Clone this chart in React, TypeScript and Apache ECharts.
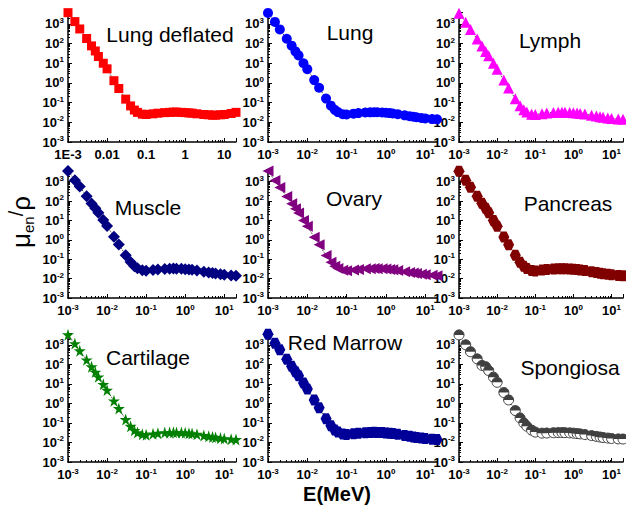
import React, { useEffect, useRef } from 'react';
import * as echarts from 'echarts';

// Photon energies (MeV)
const energies = [0.001, 0.0015, 0.002, 0.003, 0.004, 0.005, 0.006, 0.008, 0.01, 0.015, 0.02, 0.03, 0.04, 0.05, 0.06, 0.08, 0.1, 0.15, 0.2, 0.3, 0.4, 0.5, 0.6, 0.8, 1, 1.25, 1.5, 2, 3, 4, 5, 6, 8, 10, 15, 20];

// mu_en / rho values per tissue (cm^2/g)
const lungDeflated = [3700, 1300, 550, 180, 76, 42, 22, 10, 5.2, 1.3, 0.52, 0.15, 0.068, 0.042, 0.032, 0.026, 0.025, 0.027, 0.029, 0.031, 0.032, 0.033, 0.033, 0.032, 0.031, 0.030, 0.029, 0.027, 0.025, 0.024, 0.023, 0.023, 0.024, 0.025, 0.028, 0.032];
const lung = [3600, 1250, 520, 175, 78, 40, 25, 10, 5.0, 1.4, 0.57, 0.16, 0.07, 0.043, 0.033, 0.026, 0.025, 0.0275, 0.0295, 0.0315, 0.0322, 0.0325, 0.0323, 0.0316, 0.0306, 0.0293, 0.0281, 0.026, 0.0227, 0.0206, 0.0191, 0.018, 0.0166, 0.0157, 0.0146, 0.0141];
const lymph = [3500, 1200, 520, 170, 75, 40, 24, 10, 5.0, 1.4, 0.56, 0.155, 0.07, 0.043, 0.033, 0.026, 0.025, 0.0276, 0.0297, 0.0318, 0.0326, 0.0329, 0.0327, 0.0319, 0.0309, 0.0296, 0.0284, 0.0262, 0.0228, 0.0207, 0.0192, 0.0181, 0.0167, 0.0158, 0.0147, 0.0142];
const muscle = [3600, 1200, 560, 175, 75, 42, 25, 10.5, 5.2, 1.45, 0.58, 0.16, 0.072, 0.044, 0.034, 0.027, 0.0255, 0.0276, 0.0297, 0.0317, 0.0325, 0.0328, 0.0326, 0.0318, 0.0308, 0.0295, 0.0283, 0.0261, 0.0228, 0.0207, 0.0192, 0.0181, 0.0166, 0.0157, 0.0146, 0.0141];
const ovary = [3500, 1150, 500, 170, 72, 40, 24, 9.8, 5.0, 1.35, 0.56, 0.155, 0.07, 0.043, 0.033, 0.027, 0.0255, 0.0277, 0.0298, 0.0318, 0.0326, 0.0329, 0.0327, 0.0319, 0.0309, 0.0296, 0.0284, 0.0262, 0.0228, 0.0207, 0.0192, 0.0181, 0.0167, 0.0158, 0.0147, 0.0142];
const pancreas = [3400, 1200, 520, 175, 76, 42, 25, 10, 5.0, 1.4, 0.56, 0.16, 0.07, 0.043, 0.033, 0.026, 0.025, 0.0275, 0.0296, 0.0316, 0.0324, 0.0327, 0.0325, 0.0317, 0.0307, 0.0294, 0.0282, 0.026, 0.0227, 0.0206, 0.0191, 0.018, 0.0166, 0.0157, 0.0146, 0.0141];
const cartilage = [3300, 1150, 500, 170, 75, 40, 23, 9.5, 4.8, 1.35, 0.55, 0.15, 0.068, 0.042, 0.032, 0.026, 0.025, 0.0277, 0.0298, 0.0319, 0.0327, 0.033, 0.0328, 0.032, 0.031, 0.0297, 0.0285, 0.0263, 0.0229, 0.0208, 0.0193, 0.0182, 0.0168, 0.0159, 0.0148, 0.0143];
const redMarrow = [3500, 1200, 550, 180, 80, 42, 26, 11, 5.5, 1.5, 0.6, 0.165, 0.072, 0.044, 0.034, 0.027, 0.0255, 0.0277, 0.0298, 0.0318, 0.0326, 0.0329, 0.0327, 0.0319, 0.0309, 0.0296, 0.0284, 0.0262, 0.0228, 0.0207, 0.0192, 0.0181, 0.0167, 0.0158, 0.0147, 0.0142];
const spongiosa = [3200, 1000, 440, 190, 88, 75, 48, 22, 12, 3.6, 1.5, 0.43, 0.18, 0.1, 0.068, 0.043, 0.034, 0.03, 0.0305, 0.0315, 0.032, 0.032, 0.0318, 0.031, 0.030, 0.0285, 0.0275, 0.0255, 0.0225, 0.0205, 0.019, 0.018, 0.0168, 0.016, 0.0152, 0.015];

const tissueNames = ['Lung deflated', 'Lung', 'Lymph', 'Muscle', 'Ovary', 'Pancreas', 'Cartilage', 'Red Marrow', 'Spongiosa'];
const tissueValues = [lungDeflated, lung, lymph, muscle, ovary, pancreas, cartilage, redMarrow, spongiosa];

// Tick labels of the first panel's energy axis
const firstPanelXLabels = ['1E-3', '0.01', '0.1', '1', '10'];
const xTitle = 'E(MeV)';

// ---- styles / layout (not data) ----
const FONT = '"Liberation Sans", Arial, Helvetica, sans-serif';
const HEX = 'path://M5,0 L15,0 L20,8.66 L15,17.32 L5,17.32 L0,8.66 Z';
const STAR = 'path://M50,0 L61,35 L98,35 L68,57 L79,91 L50,70 L21,91 L32,57 L2,35 L39,35 Z';
// upper half of a disc, as a polygon
const HALF = (() => {
  const pts: string[] = [];
  for (let k = 0; k <= 16; k++) {
    const a = Math.PI - (Math.PI * k) / 16;
    pts.push(`${(10 + 10 * Math.cos(a)).toFixed(2)},${(10 - 10 * Math.sin(a)).toFixed(2)}`);
  }
  return 'path://M' + pts.join(' L') + ' Z';
})();

const markerStyles = [
  { symbol: 'rect', color: '#ff0000', size: 9, rotate: 0 },
  { symbol: 'circle', color: '#0000ff', size: 10, rotate: 0 },
  { symbol: 'triangle', color: '#ff00ff', size: 11, rotate: 0 },
  { symbol: 'diamond', color: '#000080', size: 12, rotate: 0 },
  { symbol: 'triangle', color: '#800080', size: 11, rotate: 90 },
  { symbol: HEX, color: '#800000', size: 11, rotate: 0 },
  { symbol: STAR, color: '#008000', size: 12, rotate: 0 },
  { symbol: HEX, color: '#000099', size: 11, rotate: 0 },
  { symbol: 'circle', color: '#ffffff', size: 10, rotate: 0 },
];

const colLeft = [68, 268, 459];
const colWidth = [168, 169, 166];
const rowTop = [12, 170, 333];
const rowHeight = [130, 128, 129];
const titlePos = [
  [170, 34], [350, 32], [550, 40],
  [148, 207], [354, 198], [568, 203],
  [148, 357], [345, 342], [570, 367],
];

function supLabel(v: number) {
  const l = Math.log10(v);
  const e = Math.round(l);
  if (Math.abs(l - e) > 1e-6) return '';
  return `{b|10}{s|${e}}`;
}

const rich = {
  b: { fontSize: 13, fontWeight: 'bold', color: '#000', fontFamily: FONT, lineHeight: 15 },
  s: { fontSize: 8, fontWeight: 'bold', color: '#000', fontFamily: FONT, lineHeight: 8, padding: [0, 0, 7, 0], verticalAlign: 'bottom' },
};

export default function App() {
  const ref = useRef<HTMLDivElement>(null);
  useEffect(() => {
    document.body.style.margin = '0';
    if (!ref.current) return;
    const chart = echarts.init(ref.current, undefined, { renderer: 'svg' });
    const grids: any[] = [];
    const xAxes: any[] = [];
    const yAxes: any[] = [];
    const series: any[] = [];
    const titles: any[] = [];
    for (let i = 0; i < 9; i++) {
      const r = Math.floor(i / 3);
      const c = i % 3;
      grids.push({ left: colLeft[c], top: rowTop[r], width: colWidth[c], height: rowHeight[r], containLabel: false });
      const axisCommon = {
        type: 'log',
        logBase: 10,
        gridIndex: i,
        axisLine: { show: true, onZero: false, lineStyle: { color: '#000', width: 1.5 } },
        axisTick: { show: true, inside: true, length: 4, lineStyle: { color: '#000', width: 1 } },
        minorTick: { show: true, splitNumber: 9, length: 2, lineStyle: { color: '#000', width: 1 } },
        splitLine: { show: false },
        minorSplitLine: { show: false },
      };
      xAxes.push({
        ...axisCommon,
        min: 0.001,
        max: 20,
        axisLabel: {
          margin: 5,
          rich,
          formatter: (v: number) => {
            if (i === 0) {
              const l = Math.log10(v);
              const e = Math.round(l);
              if (Math.abs(l - e) > 1e-6) return '';
              return `{b|${firstPanelXLabels[e + 3]}}`;
            }
            return supLabel(v);
          },
        },
      });
      yAxes.push({
        ...axisCommon,
        min: 0.001,
        max: 4000,
        axisLabel: { margin: 4, rich, formatter: (v: number) => supLabel(v) },
      });
      const m = markerStyles[i];
      const data = energies.map((e, k) => [e, tissueValues[i][k]]);
      series.push({
        type: 'line',
        xAxisIndex: i,
        yAxisIndex: i,
        data,
        symbol: m.symbol,
        symbolSize: m.size,
        symbolRotate: m.rotate,
        showAllSymbol: true,
        lineStyle: { color: '#222', width: 1, type: 'dotted' },
        itemStyle: i === 8 ? { color: '#fff', borderColor: '#404040', borderWidth: 1 } : { color: m.color, borderWidth: 0 },
        clip: true,
        z: 2,
      });
      if (i === 8) {
        series.push({
          type: 'line',
          xAxisIndex: i,
          yAxisIndex: i,
          data,
          symbol: HALF,
          symbolSize: [10, 5],
          symbolOffset: [0, -2.5],
          showAllSymbol: true,
          lineStyle: { opacity: 0 },
          itemStyle: { color: '#404040', borderWidth: 0 },
          clip: true,
          z: 3,
        });
      }
      titles.push({
        text: tissueNames[i],
        left: titlePos[i][0],
        top: titlePos[i][1],
        textAlign: 'center',
        textVerticalAlign: 'middle',
        padding: 0,
        textStyle: { fontFamily: FONT, fontSize: 21, fontWeight: 'normal', color: '#000' },
      });
    }
    chart.setOption({
      animation: false,
      backgroundColor: '#fff',
      grid: grids,
      xAxis: xAxes,
      yAxis: yAxes,
      series,
      title: titles,
      graphic: [
        {
          type: 'text',
          x: 337,
          y: 494,
          style: { text: xTitle, font: `bold 20px ${FONT}`, fill: '#000', align: 'center', verticalAlign: 'middle' },
        },
        {
          type: 'text',
          x: 21,
          y: 222,
          rotation: Math.PI / 2,
          style: {
            text: '{a|μ}{sub|en}{sl|/}{a|ρ}',
            align: 'center',
            verticalAlign: 'middle',
            rich: {
              a: { fontSize: 26, fontFamily: FONT, fill: '#000', color: '#000', lineHeight: 30 },
              sub: { fontSize: 15, fontFamily: FONT, color: '#000', lineHeight: 10, verticalAlign: 'bottom', padding: [8, 0, 0, 0] },
              sl: { fontSize: 20, fontFamily: FONT, color: '#000', lineHeight: 20, verticalAlign: 'top', padding: [0, 0, 8, 0] },
            },
          },
        },
      ],
    });
    return () => chart.dispose();
  }, []);
  return <div ref={ref} style={{ width: 626, height: 507 }} />;
}
